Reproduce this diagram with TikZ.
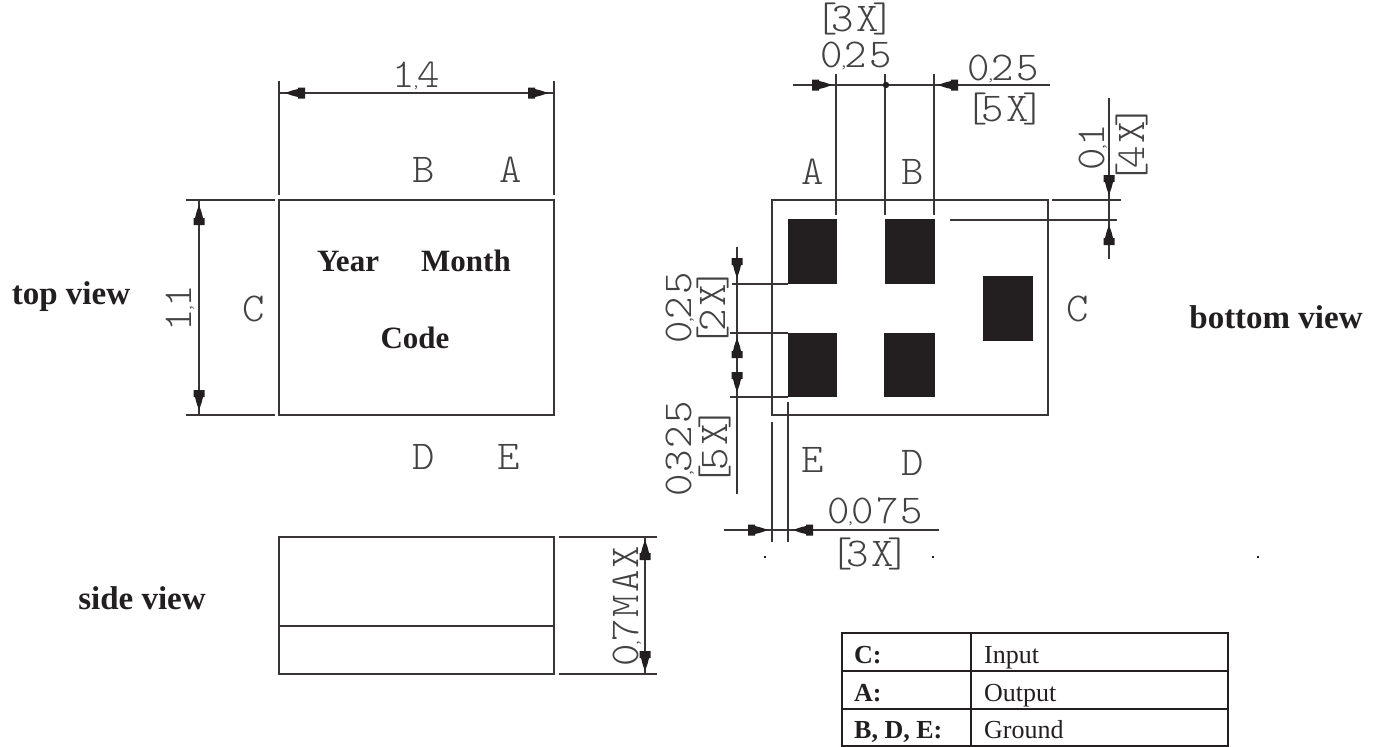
\documentclass[tikz,border=0pt]{standalone}
\usepackage{fontspec}
\setmainfont{Liberation Serif}
\newfontfamily\cadfont[FakeStretch=1.04,LetterSpace=5]{Latin Modern Mono Light}
\definecolor{ink}{HTML}{231F20}
\tikzset{
  x=1pt,y=-1pt,
  cad/.style={font=\cadfont\fontsize{41}{41}\selectfont,text=ink!85,inner sep=0pt,text height=25pt,text depth=0pt,anchor=center},
  cadv/.style={cad,rotate=90},
  lbl/.style={font=\bfseries\fontsize{33}{33}\selectfont,text=ink,inner sep=0pt,anchor=base},
  lblm/.style={lbl,font=\bfseries\fontsize{31}{31}\selectfont},
  tbl/.style={font=\fontsize{26}{26}\selectfont,text=ink,inner sep=0pt,anchor=base west},
  tblb/.style={tbl,font=\bfseries\fontsize{26}{26}\selectfont},
  ln/.style={draw=ink!90,line width=1.3pt},
  tl/.style={draw=ink,line width=1.8pt},
  pad/.style={fill=ink,draw=none}
}
\newcommand{\tip}[3]{\fill[ink,shift={(#1,#2)},rotate=#3] (0,0) -- (-7,-2.5) -- (-13,-4) -- (-13,-5.5) -- (-20,-5.5) -- (-20,5.5) -- (-13,5.5) -- (-13,4) -- (-7,2.5) -- cycle;}
\newcommand{\cm}{\makebox[2pt]{\fontsize{16}{16}\selectfont,}}
\newcommand{\lb}{[\kern-6pt}
\newcommand{\rb}{\kern-6pt]}
\begin{document}
\begin{tikzpicture}
\useasboundingbox (0,0) rectangle (1377,747);
\fill[white] (0,0) rectangle (1377,747);
% top view
\draw[ln] (279,200) rectangle (554,415);
\coordinate (ta1) at (279,81); \coordinate (ta2) at (279,195);
\coordinate (tb1) at (554,81); \coordinate (tb2) at (554,195);
\draw[ln] (ta1) -- (ta2); \draw[ln] (tb1) -- (tb2);
\coordinate (td1) at (279,93); \coordinate (td2) at (554,93);
\draw[ln] (td1) -- (td2);
\tip{285}{93}{180} \tip{548}{93}{0}
\coordinate (la1) at (186,200); \coordinate (la2) at (275,200);
\coordinate (lb1) at (186,415); \coordinate (lb2) at (275,415);
\draw[ln] (la1) -- (la2); \draw[ln] (lb1) -- (lb2);
\coordinate (ld1) at (199,200); \coordinate (ld2) at (199,415);
\draw[ln] (ld1) -- (ld2);
\tip{199}{205}{90} \tip{199}{410}{-90}
\node[cad] (t14) at (416,75) {1\cm4};
\node[cadv] (t11) at (179,308) {1\cm1};
\node[cad] (tB) at (424,170) {B};
\node[cad] (tA) at (511,170) {A};
\node[cad] (tC) at (254,309) {C};
\node[cad] (tD) at (424,457) {D};
\node[cad] (tE) at (509,457) {E};
\node[lblm] (year) at (348,271) {Year};
\node[lblm] (month) at (466,271) {Month};
\node[lblm] (code) at (415,348) {Code};
\node[lbl] (topv) at (71,304) {top view};
\node[lbl] (botv) at (1276,328) {bottom view};
\node[lbl] (sidev) at (142,609) {side view};
% side view
\draw[ln] (279,537) rectangle (554,674);
\coordinate (s1) at (279,626); \coordinate (s2) at (554,626);
\draw[ln] (s1) -- (s2);
\coordinate (sa1) at (559,537); \coordinate (sa2) at (657,537);
\coordinate (sb1) at (559,674); \coordinate (sb2) at (657,674);
\draw[ln] (sa1) -- (sa2); \draw[ln] (sb1) -- (sb2);
\coordinate (sd1) at (645,537); \coordinate (sd2) at (645,674);
\draw[ln] (sd1) -- (sd2);
\tip{645}{540}{90} \tip{645}{671}{-90}
\node[cadv] (s07) at (626,606) {0\cm7MAX};
% bottom view
\draw[ln] (772,200) rectangle (1048,415);
\fill[pad] (788,219) rectangle (837,284);
\fill[pad] (885,219) rectangle (935,284);
\fill[pad] (983,276) rectangle (1033,341);
\fill[pad] (788,333) rectangle (837,397);
\fill[pad] (884,333) rectangle (935,397);
% top dimension
\coordinate (bd1) at (793,85); \coordinate (bd2) at (1050,85);
\draw[ln] (bd1) -- (bd2);
\foreach \xx/\nm in {836/v1,885/v2,934/v3}{
  \coordinate (\nm a) at (\xx,74); \coordinate (\nm b) at (\xx,215);
  \draw[ln] (\nm a) -- (\nm b);
}
\fill[ink] (886,85) circle (3.2);
\tip{832}{85}{0} \tip{938}{85}{180}
\node[cad] (b3x) at (855,19) {\lb 3X\rb};
\node[cad] (b025a) at (856,55) {0\cm25};
\node[cad] (b025b) at (1003,68) {0\cm25};
\node[cad] (b5x) at (1005,109) {\lb 5X\rb};
% right dimension
\coordinate (rd1) at (1109,98); \coordinate (rd2) at (1109,259);
\draw[ln] (rd1) -- (rd2);
\coordinate (re1) at (1052,200); \coordinate (re2) at (1121,200);
\coordinate (rf1) at (950,220); \coordinate (rf2) at (1117,220);
\draw[ln] (re1) -- (re2); \draw[ln] (rf1) -- (rf2);
\tip{1109}{195}{-90} \tip{1109}{225}{90}
\node[cadv] (r01) at (1092,147) {0\cm1};
\node[cadv] (r4x) at (1132,145) {\lb 4X\rb};
\node[cad] (bA) at (813,172) {A};
\node[cad] (bB) at (913,172) {B};
\node[cad] (bC) at (1078,309) {C};
\node[cad] (bE) at (813,460) {E};
\node[cad] (bD) at (913,463) {D};
% left dimension
\coordinate (ld3) at (737,247); \coordinate (ld4) at (737,494);
\draw[ln] (ld3) -- (ld4);
\coordinate (e1a) at (732,284); \coordinate (e1b) at (788,284);
\coordinate (e2a) at (730,333); \coordinate (e2b) at (788,333);
\coordinate (e3a) at (730,397); \coordinate (e3b) at (788,397);
\draw[ln] (e1a) -- (e1b); \draw[ln] (e2a) -- (e2b); \draw[ln] (e3a) -- (e3b);
\tip{737}{278}{-90} \tip{737}{338}{90} \tip{737}{392}{-90}
\node[cadv] (l025) at (679,308) {0\cm25};
\node[cadv] (l2x) at (713,308) {\lb 2X\rb};
\node[cadv] (l0325) at (679,449) {0\cm325};
\node[cadv] (l5x) at (715,447) {\lb 5X\rb};
% bottom dimension
\coordinate (bb1) at (724,530); \coordinate (bb2) at (939,530);
\draw[ln] (bb1) -- (bb2);
\coordinate (bv1a) at (772,422); \coordinate (bv1b) at (772,542);
\coordinate (bv2a) at (788,402); \coordinate (bv2b) at (788,542);
\draw[ln] (bv1a) -- (bv1b); \draw[ln] (bv2a) -- (bv2b);
\tip{768}{530}{0} \tip{793}{530}{180}
\node[cad] (b075) at (875,511) {0\cm075};
\node[cad] (b3xb) at (870,554) {\lb 3X\rb};
% specks
\fill[ink] (764,556) rectangle +(1.5,1.5);
\fill[ink] (932,556) rectangle +(1.5,1.5);
\fill[ink] (1257,556) rectangle +(1.5,1.5);
% table
\draw[tl] (842,633) rectangle (1228,746);
\coordinate (h1a) at (842,671); \coordinate (h1b) at (1228,671);
\coordinate (h2a) at (842,709); \coordinate (h2b) at (1228,709);
\coordinate (c1a) at (971,633); \coordinate (c1b) at (971,746);
\draw[tl] (h1a) -- (h1b); \draw[tl] (h2a) -- (h2b); \draw[tl] (c1a) -- (c1b);
\node[tblb] (c1) at (854,663) {C:};
\node[tblb] (c2) at (854,701) {A:};
\node[tblb] (c3) at (854,738) {B, D, E:};
\node[tbl] (d1) at (984,663) {Input};
\node[tbl] (d2) at (984,701) {Output};
\node[tbl] (d3) at (984,738) {Ground};
\end{tikzpicture}
\end{document}
